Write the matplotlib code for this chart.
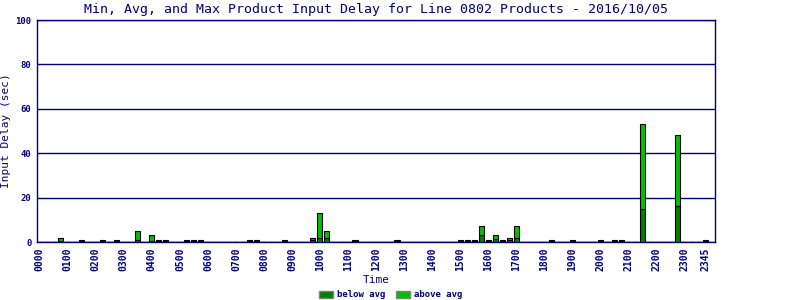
import numpy as np
import matplotlib
matplotlib.use("Agg")
import matplotlib.pyplot as plt
from matplotlib.patches import Patch

# 15-minute slots that had products, with avg and max delay (sec)
slot_times = ["0045", "0130", "0215", "0245", "0330", "0400", "0415", "0430",
              "0515", "0530", "0545", "0730", "0745", "0845", "0945", "1000",
              "1015", "1115", "1245", "1500", "1515", "1530", "1545", "1600",
              "1615", "1630", "1645", "1700", "1815", "1900", "2000", "2030",
              "2045", "2130", "2245", "2345"]
avg_delay = [0.5, 0.5, 0.5, 0.5, 1.0, 0.3, 0.5, 0.5,
             0.5, 0.5, 0.5, 0.5, 0.5, 0.5, 1.0, 2.0,
             2.0, 0.5, 0.5, 0.5, 0.5, 0.5, 3.3, 0.5,
             1.5, 0.5, 1.0, 2.0, 0.5, 0.5, 0.5, 0.5,
             0.5, 15.0, 16.0, 0.5]
max_delay = [1.8, 1.0, 1.0, 1.0, 5.0, 3.3, 1.0, 1.0,
             1.0, 1.0, 1.0, 1.0, 1.0, 1.0, 1.8, 13.0,
             5.0, 1.0, 1.0, 1.0, 1.0, 1.0, 7.3, 1.0,
             3.3, 1.0, 1.8, 7.3, 1.0, 1.0, 1.0, 1.0,
             1.0, 53.0, 48.0, 1.0]

# all quarter-hour slots of the day
all_slots = ["%02d%02d" % (h, m) for h in range(24) for m in (0, 15, 30, 45)]
tick_labels = ["%02d00" % h for h in range(24)] + ["2345"]

below = np.zeros(len(all_slots))
above = np.zeros(len(all_slots))
for t, a, m in zip(slot_times, avg_delay, max_delay):
    i = all_slots.index(t)
    below[i] = a
    above[i] = m - a

navy = "#000080"
dark_green = "#008000"
light_green = "#00c000"
mono = ["DejaVu Sans Mono"]

fig = plt.figure(figsize=(8, 3), dpi=100)
ax = fig.add_axes([0.04625, 0.1933, 0.8475, 0.74])

x = np.arange(len(all_slots))
ax.bar(x, below, width=0.72, color=dark_green, edgecolor="black", linewidth=0.8, zorder=3)
ax.bar(x, above, width=0.72, bottom=below, color=light_green, edgecolor="black", linewidth=0.8, zorder=3)

ax.set_ylim(0, 100)
ax.set_xlim(-0.4, 96.4)
ax.set_yticks([0, 20, 40, 60, 80, 100])
ax.yaxis.grid(True, color=navy, linewidth=1, zorder=1)
for s in ax.spines.values():
    s.set_color(navy)
    s.set_linewidth(1)

tick_pos = [all_slots.index(t) for t in tick_labels]
ax.set_xticks(tick_pos)
ax.set_xticklabels(tick_labels, rotation=90, family=mono, fontsize=7,
                   fontweight="bold", color=navy)
for lbl in ax.get_yticklabels():
    lbl.set_family(mono)
    lbl.set_fontsize(6.5)
    lbl.set_fontweight("bold")
    lbl.set_color(navy)
ax.tick_params(axis="both", length=0, pad=4)

ax.set_title("Min, Avg, and Max Product Input Delay for Line 0802 Products - 2016/10/05",
             family=mono, fontsize=9.5, color=navy, pad=5)
ax.set_ylabel("Input Delay (sec)", family=mono, fontsize=8, color=navy, labelpad=3)
ax.set_xlabel("Time", family=mono, fontsize=8, color=navy, labelpad=3)

handles = [Patch(facecolor=dark_green, edgecolor="gray", label="below avg"),
           Patch(facecolor=light_green, edgecolor="gray", label="above avg")]
fig.legend(handles=handles, loc="lower center", bbox_to_anchor=(0.488, -0.025), ncol=2,
           frameon=False, prop={"family": mono, "size": 6.5, "weight": "bold"},
           handlelength=1.6, handleheight=0.9, handletextpad=0.4, columnspacing=1.2,
           labelcolor=navy)

fig.savefig("out.png", dpi=100)
